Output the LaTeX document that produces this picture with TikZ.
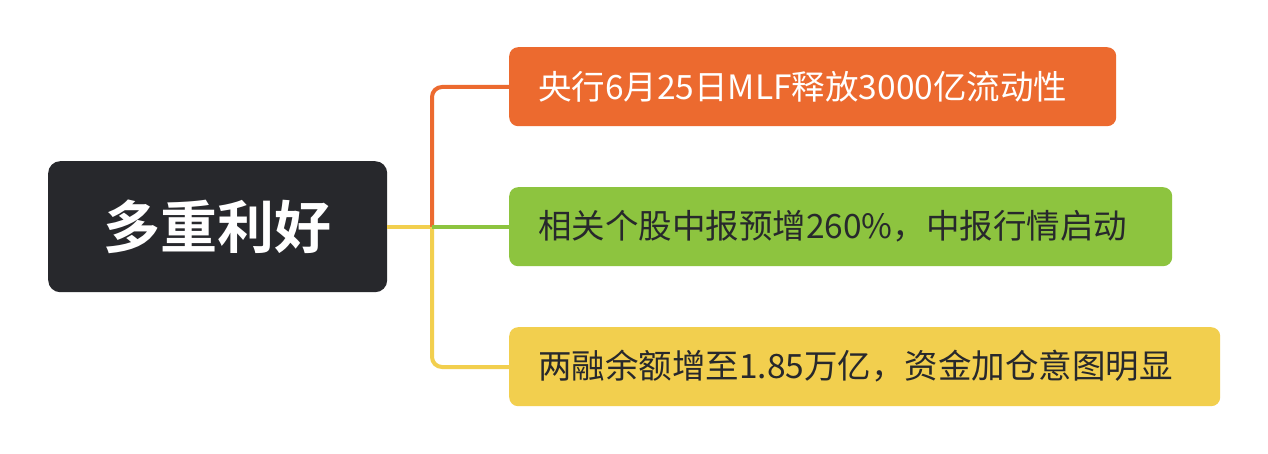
\documentclass[tikz,border=0pt]{standalone}
\usepackage{fontspec}
\newfontfamily\cjk{Noto Sans CJK SC}
\newfontfamily\cjkb{Noto Sans CJK SC Bold}
\definecolor{ora}{HTML}{EC6A2F}
\definecolor{gre}{HTML}{8DC43F}
\definecolor{yel}{HTML}{F2CF4E}
\definecolor{dark}{HTML}{27282C}
\begin{document}
\begin{tikzpicture}[x=1pt,y=-1pt,
  leaf/.style={rounded corners=9pt,anchor=north west,inner sep=0pt},
  ltext/.style={anchor=west,font=\cjk\fontsize{33.5}{36}\selectfont,inner sep=0pt},
  conn/.style={line width=4pt,rounded corners=10pt}]
\useasboundingbox (0,0) rectangle (1268,454);
\fill[white] (0,0) rectangle (1268,454);
\node[fill=dark,rounded corners=12pt,minimum width=339pt,minimum height=131pt,anchor=north west,inner sep=0pt,text=white,font=\cjkb\fontsize{57}{60}\selectfont] (root) at (48,161) {多重利好};
\node[leaf,fill=ora,minimum width=607pt,minimum height=79pt] (a) at (509,47) {};
\node[ltext,text=white] (ta) at (538,86.5) {央行6月25日MLF释放3000亿流动性};
\node[leaf,fill=gre,minimum width=663pt,minimum height=79pt] (b) at (509,187) {};
\node[ltext,text=dark] (tb) at (538,226.5) {相关个股中报预增260\%，中报行情启动};
\node[leaf,fill=yel,minimum width=711pt,minimum height=79pt] (c) at (509,327) {};
\node[ltext,text=dark] (tc) at (538,366.5) {两融余额增至1.85万亿，资金加仓意图明显};
\coordinate (j) at (432,227);
\draw[conn,yel] (root.east |- j) -- (j);
\draw[conn,ora] (j) -- (432,87) -- (a.west |- 0,87);
\draw[conn,yel] (j) -- (432,367) -- (c.west |- 0,367);
\draw[line width=4pt,gre] (j) -- (b.west |- j);
\end{tikzpicture}
\end{document}
